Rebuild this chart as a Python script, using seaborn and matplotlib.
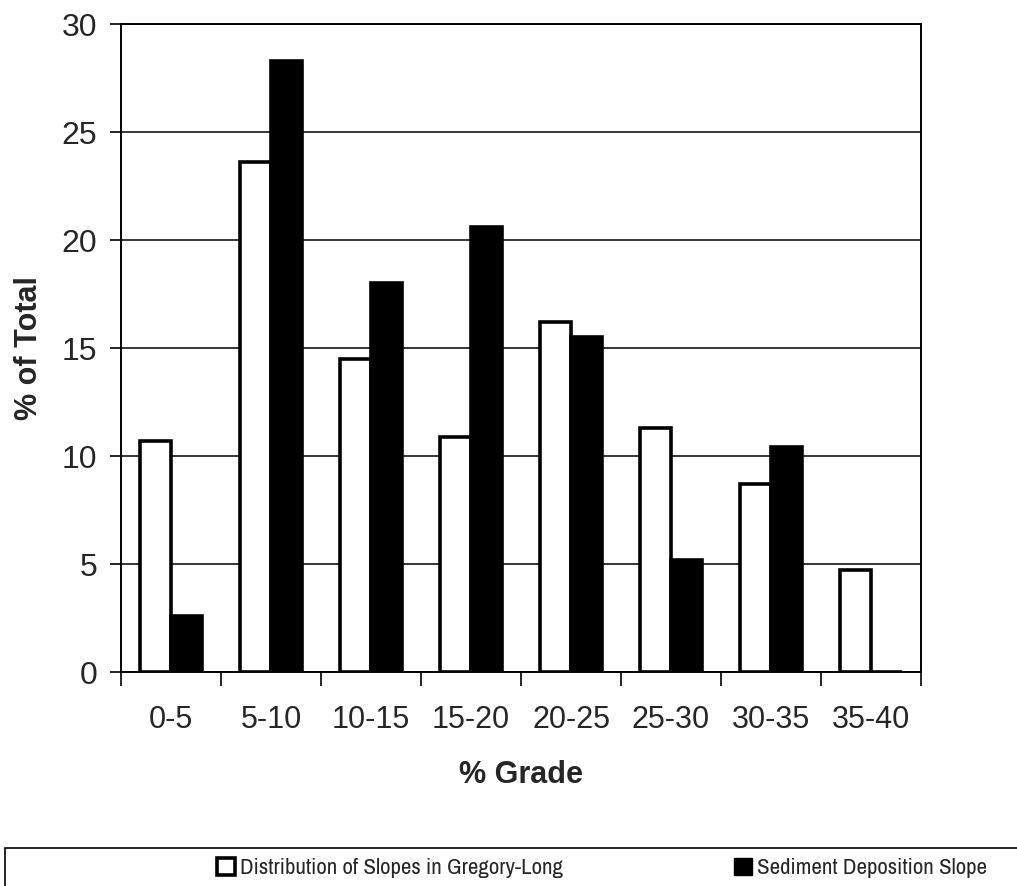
import matplotlib
matplotlib.use("Agg")
import matplotlib.pyplot as plt
from matplotlib import font_manager
from matplotlib.patches import Patch, Rectangle
import numpy as np
import pandas as pd
import seaborn as sns

# Slope-grade classes and the share of each series falling in them
grades = ["0-5", "5-10", "10-15", "15-20", "20-25", "25-30", "30-35", "35-40"]
gregory_long = [10.7, 23.6, 14.5, 10.9, 16.2, 11.3, 8.7, 4.7]
sediment_slope = [2.6, 28.3, 18.0, 20.6, 15.5, 5.2, 10.4, 0.0]
series_names = ["Distribution of Slopes in Gregory-Long", "Sediment Deposition Slope"]
y_ticks = [0, 5, 10, 15, 20, 25, 30]

sns.set_theme(style="white")
plt.rcParams["font.family"] = ["Liberation Sans", "DejaVu Sans"]

# narrow face for the legend, if one is available
narrow = sorted({f.name for f in font_manager.fontManager.ttflist
                 if "Narrow" in f.name or "Condensed" in f.name})
if narrow:
    legend_prop = {"family": [narrow[0], "Liberation Sans"], "size": 16.5}
else:
    legend_prop = {"family": ["Liberation Sans"], "size": 14}

df = pd.DataFrame({
    "grade": grades * 2,
    "pct": gregory_long + sediment_slope,
    "series": [series_names[0]] * len(grades) + [series_names[1]] * len(grades),
})

fig = plt.figure(figsize=(10.17, 8.86), dpi=100)
ax = fig.add_axes([121 / 1017, 1 - 672 / 886, 800 / 1017, 648 / 886])

ax.set_axisbelow(True)
ax.yaxis.grid(True, color="black", linewidth=1.1)

palette = {series_names[0]: "white", series_names[1]: "black"}
sns.barplot(data=df, x="grade", y="pct", hue="series", order=grades,
            hue_order=series_names, palette=palette, width=0.62,
            edgecolor="black", linewidth=2.6, legend=False, ax=ax,
            saturation=1)

ax.set_xlim(-0.5, len(grades) - 0.5)
ax.set_ylim(0, 30)
ax.set_yticks(y_ticks)
ax.set_yticklabels([str(t) for t in y_ticks], fontsize=23)
ax.set_xticks(np.arange(len(grades)))
ax.set_xticklabels(grades, fontsize=22)
ax.set_xticks(np.arange(len(grades) + 1) - 0.5, minor=True)
ax.tick_params(axis="x", which="major", length=0, pad=24)
ax.tick_params(axis="x", which="minor", length=10, width=1.2, color="black", direction="out", bottom=True)
ax.tick_params(axis="y", which="major", length=8, width=1.2, color="black", direction="out", left=True, pad=9)

for s in ax.spines.values():
    s.set_visible(True)
    s.set_color("black")
    s.set_linewidth(1.4)

ax.set_xlabel("% Grade", fontsize=22, fontweight="bold", labelpad=18)
ax.set_ylabel("% of Total", fontsize=22, fontweight="bold", labelpad=13)

handles = [Patch(facecolor="white", edgecolor="black", linewidth=2.6, label=series_names[0]),
           Patch(facecolor="black", edgecolor="black", linewidth=1.0, label=series_names[1])]
for h, x0 in zip(handles, [217, 734]):
    fig.legend(handles=[h], loc="center left", bbox_to_anchor=(x0 / 1017, 1 - 868 / 886),
               frameon=False, handlelength=0.8, handleheight=0.8,
               handletextpad=0.2, borderpad=0, borderaxespad=0, prop=legend_prop)

fig.patches.append(Rectangle((5 / 1017, -0.1), 1.2, 0.1 + (886 - 848) / 886,
                             transform=fig.transFigure, fill=False,
                             edgecolor="black", linewidth=1.2))

fig.savefig("out.png", dpi=100, facecolor="white")
